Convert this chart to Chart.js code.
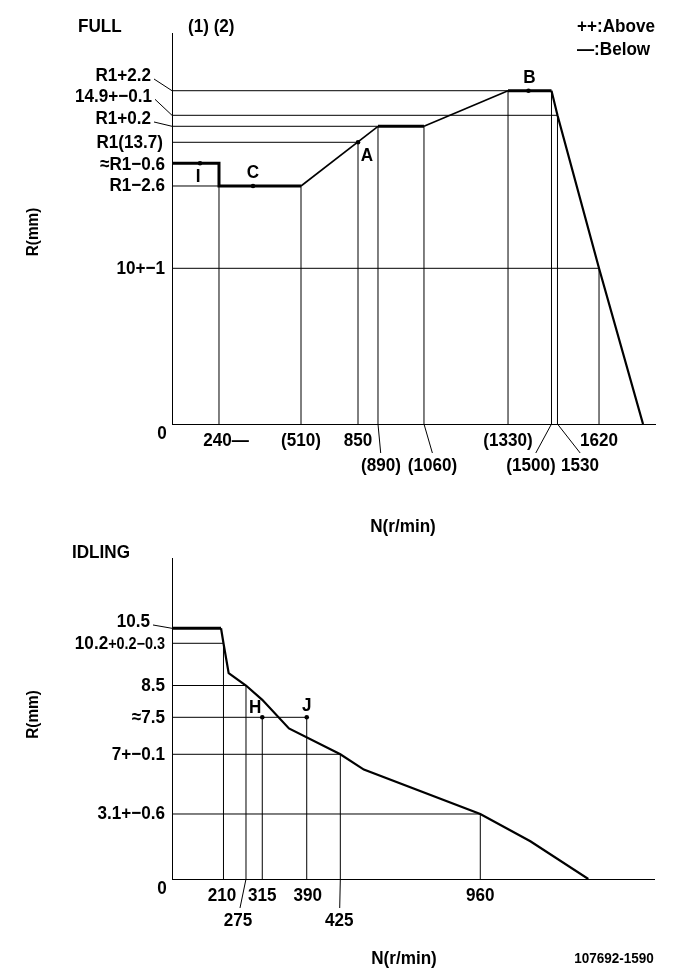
<!DOCTYPE html>
<html>
<head>
<meta charset="utf-8">
<script src="https://cdn.jsdelivr.net/npm/chart.js@4.4.1/dist/chart.umd.min.js"></script>
<style>
  html, body { margin: 0; padding: 0; background: #fff; }
  body { width: 681px; height: 979px; position: relative; overflow: hidden; }
  canvas { position: absolute; left: 0; }
  #full { top: 0; }
  #idle { top: 540px; }
</style>
</head>
<body>
<canvas id="full" width="681" height="540"></canvas>
<canvas id="idle" width="681" height="439"></canvas>
<script>
// FULL curve: rack position R (mm) against pump speed N (r/min)
const fullRpm = [0, 240, 240, 510, 890, 1060, 1330, 1500, 1530, 1620, 1730];
const fullR   = [13.1, 13.1, 11.1, 11.1, 13.9, 13.9, 15.9, 15.9, 14.9, 10, 0];
const fullRpmTicks  = [240, 510, 850, 890, 1060, 1330, 1500, 1530, 1620];
const fullRpmLabels = ['240—', '(510)', '850', '(890)', '(1060)', '(1330)', '(1500)', '1530', '1620'];
const fullRpmReach  = [11.1, 11.1, 13.7, 13.9, 13.9, 15.9, 15.9, 14.9, 10];
const fullRTicks  = [15.9, 14.9, 13.9, 13.7, 13.1, 11.1, 10];
const fullRLabels = ['R1+2.2', '14.9+−0.1', 'R1+0.2', 'R1(13.7)', '≈R1−0.6', 'R1−2.6', '10+−1'];
const fullRReach  = [1330, 1530, 890, 850, 0, 240, 1620];
const fullMarks   = ['I', 'C', 'A', 'B'];
const fullMarkRpm = [143, 352, 850, 1410];
const fullMarkR   = [13.1, 11.1, 13.7, 15.9];

// IDLING curve
const idleRpm = [0, 200, 210, 225, 275, 315, 360, 425, 515, 960, 1150, 1370];
const idleR   = [10.5, 10.5, 10.2, 9.0, 8.5, 8.05, 7.35, 7, 6.0, 3.1, 1.8, 0];
const idleRpmTicks  = [210, 275, 315, 390, 425, 960];
const idleRpmLabels = ['210', '275', '315', '390', '425', '960'];
const idleRpmReach  = [10.2, 8.5, 7.5, 7.5, 7, 3.1];
const idleRTicks  = [10.5, 10.2, 8.5, 7.5, 7, 3.1];
const idleRLabels = ['10.5', '10.2+0.2−0.3', '8.5', '≈7.5', '7+−0.1', '3.1+−0.6'];
const idleRReach  = [0, 210, 275, 390, 425, 960];
const idleMarks   = ['H', 'J'];
const idleMarkRpm = [315, 390];
const idleMarkR   = [7.5, 7.5];

// the drawing is not to scale: each axis is a piecewise mapping value -> fraction of axis
const scaleMaps = {
  fullN: [[0, 0], [240, 0.0973], [510, 0.2671], [850, 0.3851], [890, 0.4265], [1060, 0.5217],
          [1330, 0.6957], [1500, 0.7857], [1530, 0.7981], [1620, 0.8841], [1730, 0.9752], [1760, 1]],
  fullR: [[0, 0], [10, 0.3982], [11.1, 0.6087], [13.1, 0.6668], [13.7, 0.7205], [13.9, 0.7614],
          [14.9, 0.7895], [15.9, 0.8524], [18, 1]],
  idleN: [[0, 0], [210, 0.1068], [275, 0.1535], [315, 0.1873], [390, 0.2795], [425, 0.3492],
          [960, 0.6396], [1370, 0.8637], [1620, 1]],
  idleR: [[0, 0], [3.1, 0.2025], [7, 0.3885], [7.5, 0.5037], [8.5, 0.6028], [10.2, 0.7343],
          [10.5, 0.781], [12.5, 1]]
};

class SchematicScale extends Chart.LinearScale {
  static id = 'schematic';
  static defaults = {};
  toDecimal(v) {
    const a = scaleMaps[this.options.map];
    if (v <= a[0][0]) return a[0][1];
    for (let i = 1; i < a.length; i++) {
      if (v <= a[i][0]) {
        const [v0, f0] = a[i - 1], [v1, f1] = a[i];
        return f0 + (v - v0) / (v1 - v0) * (f1 - f0);
      }
    }
    return a[a.length - 1][1];
  }
  getPixelForValue(v) {
    return this.getPixelForDecimal(this.toDecimal(v));
  }
  getValueForPixel(p) {
    const d = this.getDecimalForPixel(p), a = scaleMaps[this.options.map];
    for (let i = 1; i < a.length; i++) {
      if (d <= a[i][1]) {
        const [v0, f0] = a[i - 1], [v1, f1] = a[i];
        return v0 + (d - f0) / (f1 - f0) * (v1 - v0);
      }
    }
    return a[a.length - 1][0];
  }
}
Chart.register(SchematicScale);

const FONT = '"Liberation Sans", "DejaVu Sans", sans-serif';
const SQUEEZE = 0.9;

function txt(ctx, s, x, y, o) {
  o = o || {};
  ctx.save();
  ctx.font = `bold ${o.size || 19}px ${FONT}`;
  ctx.fillStyle = '#000';
  ctx.textBaseline = 'middle';
  ctx.textAlign = o.align || 'center';
  ctx.translate(x, y);
  if (o.rotate) ctx.rotate(o.rotate);
  ctx.scale(SQUEEZE, 1);
  ctx.fillText(s, 0, 0);
  ctx.restore();
}

function txtWidth(ctx, s, size) {
  ctx.save();
  ctx.font = `bold ${size}px ${FONT}`;
  const w = ctx.measureText(s).width * SQUEEZE;
  ctx.restore();
  return w;
}

function line(ctx, x1, y1, x2, y2) {
  ctx.save();
  ctx.strokeStyle = '#000';
  ctx.lineWidth = 1;
  ctx.beginPath();
  ctx.moveTo(x1, y1);
  ctx.lineTo(x2, y2);
  ctx.stroke();
  ctx.restore();
}

// thin lines from the axes up / across to the curve
function refLines(ticks, reach, horizontal) {
  const pts = [];
  ticks.forEach((t, i) => {
    if (!reach[i]) return;
    if (horizontal) pts.push({x: 0, y: t}, {x: reach[i], y: t}, {x: reach[i], y: null});
    else pts.push({x: t, y: 0}, {x: t, y: reach[i]}, {x: t, y: null});
  });
  return pts;
}

function makeDecor(cfg) {
  return {
    id: 'decor',
    afterDatasetsDraw(chart) {
      const {ctx, scales: {x, y}} = chart;
      const x0 = x.getPixelForValue(0), y0 = y.getPixelForValue(0);

      // R labels on the left
      cfg.rTicks.forEach((v, i) => {
        const py = y.getPixelForValue(v), l = cfg.rLayout[i];
        const rx = x0 + l.dx, ty = py + (l.dy || 0);
        const m = cfg.rLabels[i].match(/^([\d.]+)(\+[\d.]+−[\d.]+)$/);
        if (m) {
          const w = txtWidth(ctx, m[2], 16);
          txt(ctx, m[2], rx, ty + 1, {align: 'right', size: 16});
          txt(ctx, m[1], rx - w, ty, {align: 'right'});
        } else {
          txt(ctx, cfg.rLabels[i], rx, ty, {align: 'right'});
        }
        if (l.lead) line(ctx, rx + 3, ty + 3, x0, py);
      });

      // N labels below the axis
      cfg.nTicks.forEach((v, i) => {
        const px = x.getPixelForValue(v), l = cfg.nLayout[i];
        const row = l.row || 0;
        txt(ctx, cfg.nLabels[i], px + l.dx, y0 + (row ? 41.5 : 16.5));
        if (row) line(ctx, px, y0, px + l.lead, y0 + 29);
      });
      txt(ctx, '0', x0 - 10, y0 + 10);

      // marked points
      cfg.marks.forEach((s, i) => {
        const l = cfg.markLayout[i];
        txt(ctx, s, x.getPixelForValue(cfg.markRpm[i]) + l.dx, y.getPixelForValue(cfg.markR[i]) + l.dy);
      });

      cfg.texts.forEach(t => txt(ctx, t.t, t.x, t.y, t));
    }
  };
}

function makeChart(id, cfg) {
  const curve = cfg.rpm.map((n, i) => ({x: n, y: cfg.r[i]}));
  const marks = cfg.markRpm.map((n, i) => ({x: n, y: cfg.markR[i]}));
  const refs = refLines(cfg.nTicks, cfg.nReach, false).concat(refLines(cfg.rTicks, cfg.rReach, true));
  const axis = (map, max) => ({
    type: 'schematic', map: map, min: 0, max: max,
    grid: {display: false, drawTicks: false}, ticks: {display: false},
    border: {display: true, color: '#000', width: 1}
  });
  return new Chart(document.getElementById(id), {
    type: 'line',
    data: {
      datasets: [
        {
          data: marks, showLine: false, order: -1,
          pointRadius: 2.3, pointBackgroundColor: '#000', pointBorderWidth: 0
        },
        {
          data: curve, order: 0, borderColor: '#000', pointRadius: 0, tension: 0,
          segment: {
            borderWidth: c => {
              const a = c.p0.parsed, b = c.p1.parsed;
              if (a.x === b.x || a.y === b.y) return 3;
              return b.y < a.y ? 2.2 : 1.6;
            }
          }
        },
        {
          data: refs, order: 2, borderColor: '#000', borderWidth: 1,
          pointRadius: 0, spanGaps: false
        }
      ]
    },
    options: {
      responsive: false,
      animation: false,
      events: [],
      layout: {padding: cfg.padding},
      plugins: {legend: {display: false}, tooltip: {enabled: false}},
      scales: {x: axis(cfg.xMap, cfg.xMax), y: axis(cfg.yMap, cfg.yMax)}
    },
    plugins: [makeDecor(cfg)]
  });
}

makeChart('full', {
  rpm: fullRpm, r: fullR,
  nTicks: fullRpmTicks, nLabels: fullRpmLabels, nReach: fullRpmReach,
  rTicks: fullRTicks, rLabels: fullRLabels, rReach: fullRReach,
  marks: fullMarks, markRpm: fullMarkRpm, markR: fullMarkR,
  xMap: 'fullN', xMax: 1760, yMap: 'fullR', yMax: 18,
  padding: {left: 172, right: 26, top: 33, bottom: 116},
  rLayout: [
    {dx: -21, dy: -14.7, lead: true}, {dx: -20, dy: -19, lead: true}, {dx: -21, dy: -7.3, lead: true},
    {dx: -9}, {dx: -7, dy: 1}, {dx: -7}, {dx: -7}
  ],
  nLayout: [
    {dx: 7}, {dx: 0}, {dx: 0}, {dx: 3, row: 1, lead: 2.7}, {dx: 8.5, row: 1, lead: 8.4},
    {dx: 0}, {dx: -20.5, row: 1, lead: -15.7}, {dx: 22.5, row: 1, lead: 22.7}, {dx: 0}
  ],
  markLayout: [{dx: -2, dy: 13}, {dx: 0, dy: -13}, {dx: 9, dy: 13.5}, {dx: 1, dy: -13}],
  texts: [
    {t: 'FULL', x: 78, y: 27, align: 'left'},
    {t: '(1) (2)', x: 188, y: 27, align: 'left'},
    {t: '++:Above', x: 577, y: 27, align: 'left'},
    {t: '—:Below', x: 577, y: 50, align: 'left'},
    {t: 'N(r/min)', x: 403, y: 527},
    {t: 'R(mm)', x: 33, y: 232, size: 17, rotate: -Math.PI / 2}
  ]
});

makeChart('idle', {
  rpm: idleRpm, r: idleR,
  nTicks: idleRpmTicks, nLabels: idleRpmLabels, nReach: idleRpmReach,
  rTicks: idleRTicks, rLabels: idleRLabels, rReach: idleRReach,
  marks: idleMarks, markRpm: idleMarkRpm, markR: idleMarkR,
  xMap: 'idleN', xMax: 1620, yMap: 'idleR', yMax: 12.5,
  padding: {left: 172, right: 27, top: 18, bottom: 100},
  rLayout: [{dx: -22, dy: -6.3, lead: true}, {dx: -7}, {dx: -7}, {dx: -7}, {dx: -7}, {dx: -7}],
  nLayout: [{dx: -1.5}, {dx: -8, row: 1, lead: -6}, {dx: 0}, {dx: 1}, {dx: -1, row: 1, lead: -0.6}, {dx: 0}],
  markLayout: [{dx: -7, dy: -10}, {dx: 0, dy: -12}],
  texts: [
    {t: 'IDLING', x: 72, y: 13, align: 'left'},
    {t: 'N(r/min)', x: 404, y: 419},
    {t: '107692-1590', x: 614, y: 419, size: 15},
    {t: 'R(mm)', x: 33, y: 174.5, size: 17, rotate: -Math.PI / 2}
  ]
});
</script>
</body>
</html>
